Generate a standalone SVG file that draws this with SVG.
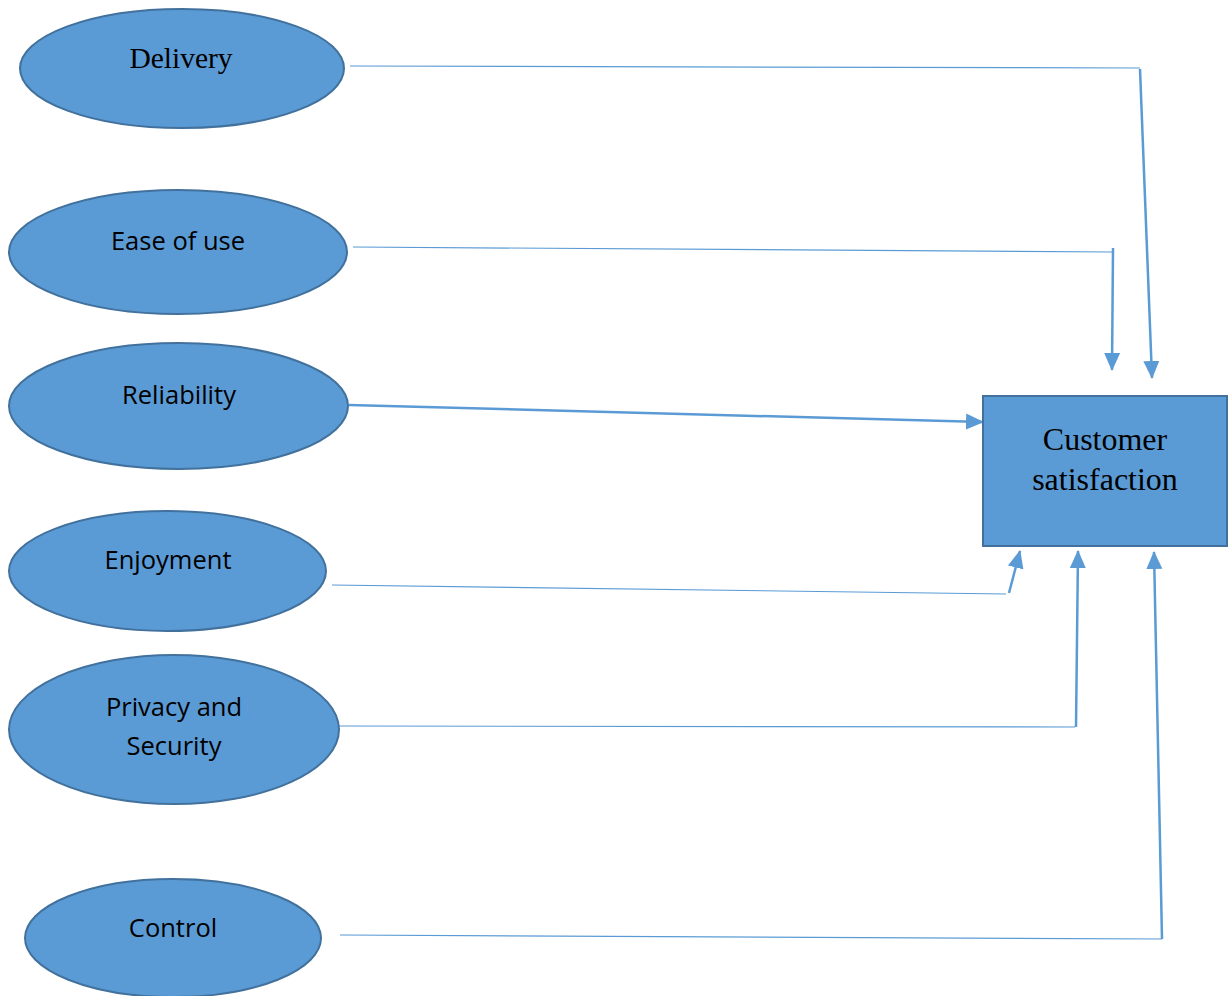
<svg xmlns="http://www.w3.org/2000/svg" width="1228" height="996" viewBox="0 0 1228 996">
  <style>
    .node { fill: #5B9BD5; stroke: #41719C; stroke-width: 2; }
    .serif { font-family: "Liberation Serif", "Times New Roman", serif; fill: #000; text-anchor: middle; }
    .sans { font-family: "Open Sans", "Liberation Sans", Arial, sans-serif; fill: #000; text-anchor: middle; font-size: 25.5px; }
    .thin { stroke: #5B9BD5; stroke-width: 1.2; fill: none; }
    .thick { stroke: #5B9BD5; stroke-width: 2.5; fill: none; }
  </style>
  <defs>
    <marker id="arrow" markerUnits="userSpaceOnUse" markerWidth="18" markerHeight="18" viewBox="0 0 18 18" refX="17" refY="9" orient="auto">
      <path d="M0,1 L18,9 L0,17 Z" fill="#5B9BD5"/>
    </marker>
  </defs>

  <g id="connectors">
    <!-- Delivery -->
    <polyline class="thin" points="350,66 1140,68"/>
    <line class="thick" x1="1140" y1="69" x2="1152" y2="378" marker-end="url(#arrow)"/>
    <!-- Ease of use -->
    <polyline class="thin" points="353,247 1113,252"/>
    <line class="thick" x1="1113" y1="248" x2="1112" y2="370" marker-end="url(#arrow)"/>
    <!-- Reliability -->
    <line class="thick" x1="349" y1="405" x2="983" y2="422" marker-end="url(#arrow)"/>
    <!-- Enjoyment -->
    <polyline class="thin" points="332,585 1006,594"/>
    <line class="thick" x1="1009" y1="593" x2="1020" y2="551" marker-end="url(#arrow)"/>
    <!-- Privacy and Security -->
    <polyline class="thin" points="339,726 1075,727"/>
    <line class="thick" x1="1076" y1="727" x2="1078" y2="551" marker-end="url(#arrow)"/>
    <!-- Control -->
    <polyline class="thin" points="340,935 1162,939"/>
    <line class="thick" x1="1162" y1="939" x2="1154" y2="552" marker-end="url(#arrow)"/>
  </g>

  <g id="node-delivery">
    <ellipse class="node" cx="182" cy="68.5" rx="162" ry="59.5"/>
    <text class="serif" x="181" y="68" font-size="29.5">Delivery</text>
  </g>
  <g id="node-ease">
    <ellipse class="node" cx="178" cy="252" rx="169" ry="62"/>
    <text class="sans" x="178" y="250">Ease of use</text>
  </g>
  <g id="node-reliability">
    <ellipse class="node" cx="178.5" cy="406" rx="169.5" ry="63"/>
    <text class="sans" x="179" y="404">Reliability</text>
  </g>
  <g id="node-enjoyment">
    <ellipse class="node" cx="167.5" cy="571" rx="158.5" ry="60"/>
    <text class="sans" x="168" y="569">Enjoyment</text>
  </g>
  <g id="node-privacy">
    <ellipse class="node" cx="174" cy="729.5" rx="165" ry="74.5"/>
    <text class="sans" x="174" y="716">Privacy and</text>
    <text class="sans" x="174" y="755">Security</text>
  </g>
  <g id="node-control">
    <ellipse class="node" cx="173" cy="938" rx="148" ry="59"/>
    <text class="sans" x="173" y="937">Control</text>
  </g>
  <g id="node-satisfaction">
    <rect class="node" x="983" y="396" width="244" height="150" stroke-width="2.5"/>
    <text class="serif" x="1105" y="450" font-size="32">Customer</text>
    <text class="serif" x="1105" y="490" font-size="32">satisfaction</text>
  </g>
</svg>
